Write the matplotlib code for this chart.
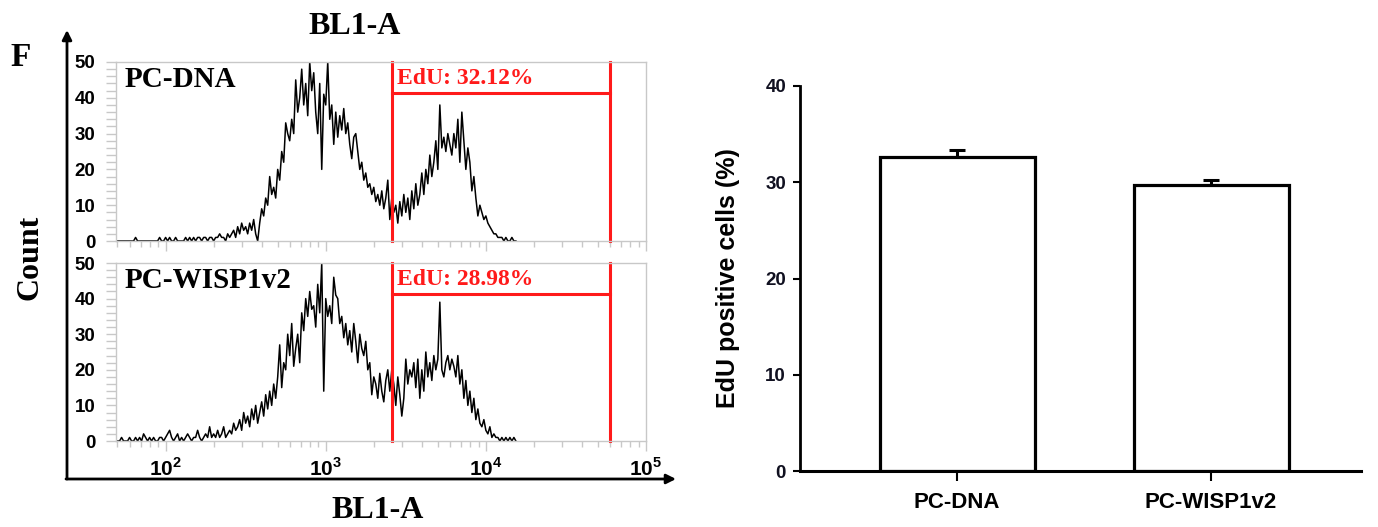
import numpy as np
import matplotlib
matplotlib.use('Agg')
import matplotlib.pyplot as plt
from matplotlib import font_manager as fm
from matplotlib.ticker import FixedLocator, FixedFormatter, NullFormatter

# ---------------- data ----------------
# flow histogram channels (log10 of BL1-A), 8 channels per 0.1 decade
log_start = 1.70
log_step = 0.0125
pc_dna_counts = [
    0, 0, 0, 0, 0, 0, 0, 0,        # 1.70
    0, 1, 0, 0, 0, 0, 0, 0,        # 1.80
    0, 0, 0, 0, 0, 1, 0, 0,        # 1.90
    1, 0, 1, 0, 0, 1, 0, 0,        # 2.00
    0, 0, 1, 0, 1, 0, 1, 0,        # 2.10
    1, 1, 0, 1, 1, 0, 1, 1,        # 2.20
    0, 1, 1, 2, 1, 1, 0, 2,        # 2.30
    1, 2, 3, 1, 4, 2, 5, 3,        # 2.40
    4, 2, 5, 3, 6, 2, 0, 5,        # 2.50
    9, 7, 12, 10, 18, 13, 15, 12,  # 2.60
    20, 17, 25, 22, 33, 30, 28, 34,  # 2.70
    30, 45, 36, 40, 48, 38, 44, 35,  # 2.80
    50, 42, 47, 36, 30, 44, 20, 41,  # 2.90
    38, 50, 34, 38, 27, 36, 29, 35,  # 3.00
    31, 37, 30, 33, 27, 23, 29, 30,  # 3.10
    25, 20, 22, 17, 19, 15, 16, 13,  # 3.20
    15, 11, 13, 10, 14, 9, 12, 17,   # 3.30
    6, 12, 8, 10, 5, 11, 7, 13,      # 3.40
    8, 12, 6, 14, 9, 16, 10, 13,     # 3.50
    19, 13, 20, 16, 24, 18, 22, 28,  # 3.60
    20, 38, 26, 29, 25, 30, 27, 24,  # 3.70
    30, 26, 34, 22, 36, 28, 20, 26,  # 3.80
    22, 14, 18, 12, 7, 10, 8, 6,     # 3.90
    7, 5, 4, 3, 2, 2, 1, 1,          # 4.00
    1, 0, 1, 0, 0, 1, 0, 0,          # 4.10
]
pc_wisp_counts = [
    0, 0, 1, 0, 0, 0, 1, 0,        # 1.70
    0, 1, 0, 1, 0, 2, 1, 0,        # 1.80
    1, 0, 1, 0, 0, 1, 1, 0,        # 1.90
    1, 2, 3, 1, 0, 1, 2, 0,        # 2.00
    1, 0, 1, 2, 1, 0, 1, 1,        # 2.10
    3, 1, 0, 1, 2, 1, 4, 1,        # 2.20
    2, 1, 3, 1, 2, 4, 1, 2,        # 2.30
    3, 2, 5, 3, 4, 6, 3, 8,        # 2.40
    5, 7, 4, 9, 6, 10, 5, 8,       # 2.50
    11, 7, 13, 9, 14, 10, 16, 12,  # 2.60
    18, 27, 15, 22, 20, 30, 24, 33,  # 2.70
    21, 26, 30, 22, 36, 31, 40, 35,  # 2.80
    42, 37, 38, 32, 44, 36, 50, 14,  # 2.90
    40, 35, 38, 33, 46, 41, 40, 33,  # 3.00
    35, 29, 33, 27, 31, 25, 33, 28,  # 3.10
    22, 30, 26, 24, 28, 20, 22, 13,  # 3.20
    18, 16, 12, 19, 14, 11, 17, 20,  # 3.30
    14, 20, 16, 10, 18, 13, 7, 12,   # 3.40
    23, 16, 20, 18, 22, 15, 23, 12,  # 3.50
    20, 14, 25, 18, 22, 17, 24, 20,  # 3.60
    23, 39, 20, 18, 22, 24, 20, 23,  # 3.70
    21, 18, 24, 16, 20, 12, 17, 10,  # 3.80
    14, 8, 12, 6, 9, 5, 4, 6,        # 3.90
    3, 2, 4, 1, 2, 1, 1, 0,          # 4.00
    1, 0, 1, 0, 1, 0, 1, 0,          # 4.10
]
panel_names = ['PC-DNA', 'PC-WISP1v2']
gate_labels = ['EdU: 32.12%', 'EdU: 28.98%']
gate_low = 2600
gate_high = 59600
gate_y = 41.3

groups = ['PC-DNA', 'PC-WISP1v2']
edu_mean = [32.6, 29.7]
edu_err = [0.8, 0.5]

# ---------------- fonts ----------------
names = {f.name for f in fm.fontManager.ttflist}
SERIF = 'Liberation Serif' if 'Liberation Serif' in names else 'DejaVu Serif'
SANS = 'Liberation Sans' if 'Liberation Sans' in names else 'DejaVu Sans'
plt.rcParams['mathtext.fontset'] = 'custom'
plt.rcParams['mathtext.rm'] = SANS + ':bold'
plt.rcParams['mathtext.bf'] = SANS + ':bold'

W, H = 1378, 527
fig = plt.figure(figsize=(W / 100, H / 100), dpi=100)


def ax_px(l, t, r, b):
    return fig.add_axes([l / W, 1 - b / H, (r - l) / W, (b - t) / H])


# overlay for arrows / free text (pixel coordinates)
ov = fig.add_axes([0, 0, 1, 1])
ov.set_xlim(0, W)
ov.set_ylim(H, 0)
ov.axis('off')
ov.annotate('', xy=(67, 30), xytext=(67, 479),
            arrowprops=dict(arrowstyle='-|>', lw=2, color='black', mutation_scale=14, shrinkA=0, shrinkB=0))
ov.annotate('', xy=(676, 479), xytext=(66, 479),
            arrowprops=dict(arrowstyle='-|>', lw=2, color='black', mutation_scale=14, shrinkA=0, shrinkB=0))
ov.text(21, 57, 'F', family=SERIF, weight='bold', fontsize=24, ha='center', va='center')
ov.text(355, 27, 'BL1-A', family=SERIF, weight='bold', fontsize=23, ha='center', va='center')
ov.text(378, 511, 'BL1-A', family=SERIF, weight='bold', fontsize=23, ha='center', va='center')
ov.text(30, 257, 'Count', family=SERIF, weight='bold', fontsize=23, ha='center', va='center', rotation=90)

GRAY = '#c8c8c8'
boxes = [(116, 62, 646, 241), (116, 263, 646, 441)]
series = [pc_dna_counts, pc_wisp_counts]
for i, (box, counts) in enumerate(zip(boxes, series)):
    ax = ax_px(*box)
    xs = 10 ** (log_start + log_step * np.arange(len(counts)))
    ax.plot(xs, counts, color='black', lw=1.1)
    ax.set_xscale('log')
    ax.set_xlim(49, 1e5)
    ax.set_ylim(0, 50)
    for s in ax.spines.values():
        s.set_color(GRAY)
        s.set_linewidth(1.0)
    # gate
    ax.plot([gate_low, gate_low], [0, 50], color='#ff1a1a', lw=2.2, clip_on=False)
    ax.plot([gate_high, gate_high], [0, 50], color='#ff1a1a', lw=2.2, clip_on=False)
    ax.plot([gate_low, gate_high], [gate_y, gate_y], color='#ff1a1a', lw=2.2)
    ax.text(2800, 45.4, gate_labels[i], color='#ff1a1a', family=SERIF, weight='bold',
            fontsize=17, ha='left', va='center')
    ax.text(0.017, 0.90, panel_names[i], transform=ax.transAxes, family=SERIF, weight='bold',
            fontsize=21, ha='left', va='center')
    # ticks
    ax.yaxis.set_major_locator(FixedLocator([0, 10, 20, 30, 40, 50]))
    ax.yaxis.set_minor_locator(FixedLocator(list(range(0, 51, 2))))
    ax.tick_params(axis='y', which='both', direction='out', color=GRAY, length=7, width=1,
                   labelsize=13.5, pad=8)
    ax.tick_params(axis='y', which='minor', length=7)
    for lab in ax.get_yticklabels():
        lab.set_family(SANS)
        lab.set_weight('bold')
    majors = [1e2, 1e3, 1e4, 1e5]
    minors = [m * 10 ** e for e in range(1, 5) for m in range(2, 10) if 49 <= m * 10 ** e <= 1e5]
    ax.xaxis.set_major_locator(FixedLocator(majors))
    ax.xaxis.set_minor_locator(FixedLocator(minors))
    ax.xaxis.set_minor_formatter(NullFormatter())
    ax.tick_params(axis='x', which='major', direction='out', color=GRAY, length=7, width=1)
    ax.tick_params(axis='x', which='minor', direction='out', color=GRAY, length=4, width=1)
    if i == 1:
        ax.xaxis.set_major_formatter(FixedFormatter([r'$10^{2}$', r'$10^{3}$', r'$10^{4}$', r'$10^{5}$']))
        ax.tick_params(axis='x', which='major', labelsize=15, pad=5)
    else:
        ax.xaxis.set_major_formatter(NullFormatter())

# ---------------- bar chart ----------------
axb = ax_px(800, 86, 1361, 471)
pos = np.arange(len(groups))
axb.bar(pos, edu_mean, width=0.61, color='white', edgecolor='black', linewidth=2.3, zorder=2)
axb.errorbar(pos, edu_mean, yerr=[np.zeros(len(edu_err)), edu_err], fmt='none', ecolor='black',
             elinewidth=2.2, capsize=6, capthick=2.2, zorder=1)
axb.set_xlim(-0.618, 1.59)
axb.set_ylim(0, 40)
axb.spines['top'].set_visible(False)
axb.spines['right'].set_visible(False)
axb.spines['left'].set_linewidth(2)
axb.spines['bottom'].set_linewidth(2.2)
axb.set_yticks([0, 10, 20, 30, 40])
axb.set_xticks(pos)
axb.set_xticklabels(groups)
axb.tick_params(axis='y', direction='out', length=5, width=1.5, labelsize=13.5, pad=5,
                labelcolor='#101020')
axb.tick_params(axis='x', direction='out', length=7, width=1.5, labelsize=16, pad=8)
for lab in axb.get_yticklabels() + axb.get_xticklabels():
    lab.set_family(SANS)
    lab.set_weight('bold')
axb.set_ylabel('EdU positive cells (%)', family=SANS, weight='bold', fontsize=18)
axb.yaxis.set_label_coords(-0.107, 0.5)

fig.savefig('out.png', dpi=100)
